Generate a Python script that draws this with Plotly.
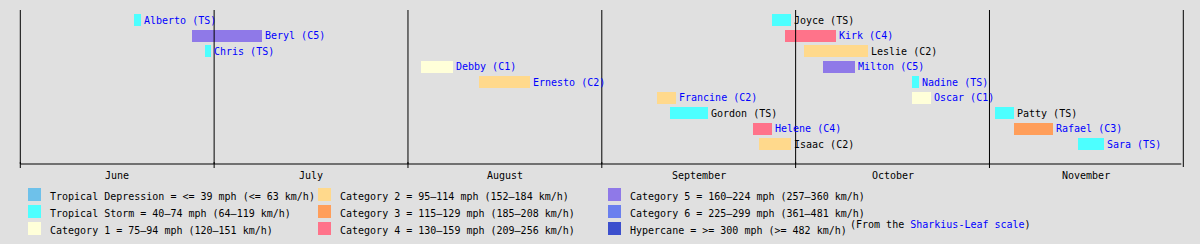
import pandas as pd
import plotly.graph_objects as go

# ---------------- data ----------------
storm_names = ["Alberto", "Beryl", "Chris", "Debby", "Ernesto", "Francine", "Gordon", "Helene", "Isaac",
               "Joyce", "Kirk", "Leslie", "Milton", "Nadine", "Oscar", "Patty", "Rafael", "Sara"]
storm_start = ["2024-06-19", "2024-06-28", "2024-06-30", "2024-08-03", "2024-08-12", "2024-09-09",
               "2024-09-11", "2024-09-24", "2024-09-25", "2024-09-27", "2024-09-29", "2024-10-02",
               "2024-10-05", "2024-10-19", "2024-10-19", "2024-11-01", "2024-11-04", "2024-11-14"]
storm_end = ["2024-06-20", "2024-07-09", "2024-07-01", "2024-08-08", "2024-08-20", "2024-09-12",
             "2024-09-17", "2024-09-27", "2024-09-30", "2024-09-30", "2024-10-07", "2024-10-12",
             "2024-10-10", "2024-10-20", "2024-10-22", "2024-11-04", "2024-11-10", "2024-11-18"]
storm_cat = ["TS", "C5", "TS", "C1", "C2", "C2", "TS", "C4", "C2",
             "TS", "C4", "C2", "C5", "TS", "C1", "TS", "C3", "TS"]
storm_row = [0, 1, 2, 3, 4, 5, 6, 7, 8, 0, 1, 2, 3, 4, 5, 6, 7, 8]
storm_linked = [True, True, True, True, True, True, False, True, False,
                False, True, False, True, True, True, False, True, True]

period_start = "2024-06-01"
period_end = "2024-12-01"
month_labels = ["June", "July", "August", "September", "October", "November"]

legend_keys = ["TD", "TS", "C1", "C2", "C3", "C4", "C5", "C6", "HC"]
legend_texts = [
    "Tropical Depression = <= 39 mph (<= 63 km/h)",
    "Tropical Storm = 40–74 mph (64–119 km/h)",
    "Category 1 = 75–94 mph (120–151 km/h)",
    "Category 2 = 95–114 mph (152–184 km/h)",
    "Category 3 = 115–129 mph (185–208 km/h)",
    "Category 4 = 130–159 mph (209–256 km/h)",
    "Category 5 = 160–224 mph (257–360 km/h)",
    "Category 6 = 225–299 mph (361–481 km/h)",
    "Hypercane = >= 300 mph (>= 482 km/h)",
]
cat_colors = {"TD": "#6ec1ea", "TS": "#4dffff", "C1": "#ffffd9", "C2": "#ffd98c", "C3": "#ff9e5a",
              "C4": "#ff738a", "C5": "#8f79e8", "C6": "#6a7fee", "HC": "#3c4fcd"}

# ---------------- layout constants ----------------
W, H = 1200, 244
BG = "#e0e0e0"
FONT = "DejaVu Sans Mono"
X0_PX, X1_PX = 20.3, 1183.3          # frame of the month grid
BAR_ORIGIN_PX, BAR_PX_PER_DAY = 19.6, 6.376   # scale of the storm bars
ROW0_PX, ROW_STEP = 20.0, 15.5
BAR_PX = 12.0


def px_x(p):
    return p / W


def px_y(p):
    return 1 - p / H


fig = go.Figure()

# bars
starts = pd.to_datetime(storm_start)
ends = pd.to_datetime(storm_end)
durations_ms = [(e - s).total_seconds() * 1000 for s, e in zip(starts, ends)]
fig.add_trace(go.Bar(
    orientation="h",
    y=storm_row,
    base=[s.strftime("%Y-%m-%d") for s in starts],
    x=durations_ms,
    width=BAR_PX / ROW_STEP,
    marker=dict(color=[cat_colors[c] for c in storm_cat], line=dict(width=0)),
    hoverinfo="skip",
    showlegend=False,
))

# bar labels
for name, cat, row, end, linked in zip(storm_names, storm_cat, storm_row, storm_end, storm_linked):
    fig.add_annotation(
        x=end, y=row, xref="x", yref="y",
        text=f"{name} ({cat})", showarrow=False,
        xanchor="left", yanchor="middle", xshift=1, yshift=0,
        font=dict(family=FONT, size=10, color="#0000ff" if linked else "#000000"),
    )

# axes mapping
ps = pd.Timestamp(period_start)
pe = pd.Timestamp(period_end)
span = pe - ps
day = pd.Timedelta(days=1)
bar_lo = ps - day * (BAR_ORIGIN_PX / BAR_PX_PER_DAY)
bar_hi = ps + day * ((W - BAR_ORIGIN_PX) / BAR_PX_PER_DAY)
x_total = X1_PX - X0_PX
grid_lo = ps - span * (X0_PX / x_total)
grid_hi = pe + span * ((W - X1_PX) / x_total)

fig.update_layout(
    width=W, height=H,
    margin=dict(l=0, r=0, t=0, b=0),
    paper_bgcolor=BG, plot_bgcolor=BG,
    bargap=0,
    xaxis=dict(type="date", range=[bar_lo, bar_hi], domain=[0, 1],
               showgrid=False, zeroline=False, showticklabels=False, ticks=""),
    xaxis2=dict(type="date", range=[grid_lo, grid_hi], overlaying="x", visible=False,
                showgrid=False, zeroline=False),
    yaxis=dict(range=[(H - ROW0_PX) / ROW_STEP, -ROW0_PX / ROW_STEP], domain=[0, 1],
               showgrid=False, zeroline=False, showticklabels=False, ticks=""),
)
# invisible anchor trace so xaxis2 exists
fig.add_trace(go.Scatter(x=[ps, pe], y=[None, None], xaxis="x2", yaxis="y",
                         mode="lines", showlegend=False, hoverinfo="skip"))

# month divisions (equal divisions of the period) and labels
n_months = len(month_labels)
edges = [ps + span * (i / n_months) for i in range(n_months + 1)]
line_style = dict(color="#000000", width=1)
for i, e in enumerate(edges):
    top = 10
    bottom = 167 if i == n_months else 164
    fig.add_shape(type="line", xref="x2", yref="paper", x0=e, x1=e,
                  y0=px_y(top), y1=px_y(bottom), line=line_style)
    if i < n_months:
        fig.add_shape(type="line", xref="x2", yref="paper", x0=e, x1=e,
                      y0=px_y(162), y1=px_y(168), line=line_style)
fig.add_shape(type="line", xref="x2", yref="paper", x0=edges[0], x1=edges[-1] - span * (2 / x_total),
              y0=px_y(164), y1=px_y(164), line=line_style)
for i, lab in enumerate(month_labels):
    mid = edges[i] + (edges[i + 1] - edges[i]) / 2
    fig.add_annotation(x=mid, y=px_y(175), xref="x2", yref="paper", text=lab, showarrow=False,
                       xanchor="center", yanchor="middle",
                       font=dict(family=FONT, size=10, color="#000000"))

# legend
col_sq_x = [28, 318, 608]
col_tx_x = [48, 338, 628]
row_sq_top = [188, 205, 222]
row_tx_y = [196.5, 213.5, 230.5]
for k, (key, txt) in enumerate(zip(legend_keys, legend_texts)):
    c, r = k // 3, k % 3
    fig.add_shape(type="rect", xref="paper", yref="paper",
                  x0=px_x(col_sq_x[c]), x1=px_x(col_sq_x[c] + 13),
                  y0=px_y(row_sq_top[r]), y1=px_y(row_sq_top[r] + 13),
                  fillcolor=cat_colors[key], line=dict(width=0))
    fig.add_annotation(x=px_x(col_tx_x[c]), y=px_y(row_tx_y[r]), xref="paper", yref="paper",
                       text=txt, showarrow=False, xanchor="left", yanchor="middle",
                       font=dict(family=FONT, size=10, color="#000000"))

fig.add_annotation(x=px_x(848), y=px_y(224), xref="paper", yref="paper",
                   text="(From the <span style='color:#0000ff'>Sharkius-Leaf scale</span>)",
                   showarrow=False, xanchor="left", yanchor="middle",
                   font=dict(family=FONT, size=10, color="#000000"))

fig.write_html("out.html")
